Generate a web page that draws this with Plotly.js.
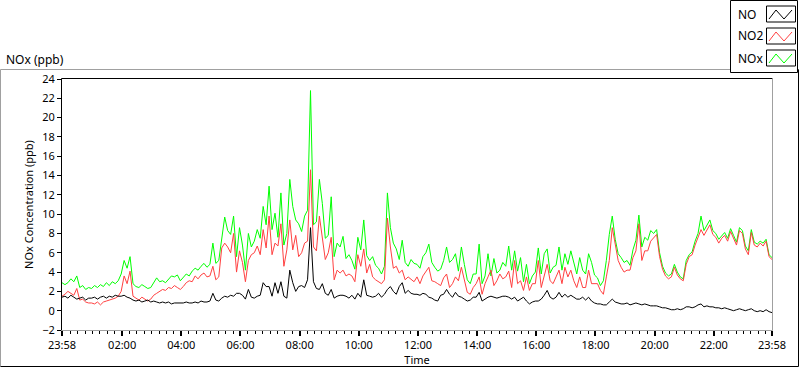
<!DOCTYPE html>
<html>
<head>
<meta charset="utf-8">
<script src="https://cdn.plot.ly/plotly-3.0.1.min.js"></script>
<style>html,body{margin:0;padding:0;background:#fff;}#chart{width:800px;height:369px;}</style>
</head>
<body>
<div id="chart"></div>
<script>
// ---- data (6-minute samples from 23:58 to 23:58 next day) ----
const seriesNames = ['NO', 'NO2', 'NOx'];
const seriesColors = ['#000000', '#ff4040', '#00ff00'];

const noxValues = [
  2.9,2.7,2.9,3.3,3.0,3.6,2.4,2.6,2.2,2.4,
  2.3,2.6,2.4,2.7,2.5,2.9,2.6,3.0,2.8,3.1,
  3.8,5.2,4.4,5.6,2.8,2.5,2.4,2.7,2.5,2.3,
  2.4,2.9,3.4,3.0,3.1,2.9,3.3,3.6,3.5,3.7,
  3.1,3.5,3.8,3.6,4.1,4.4,4.2,4.6,4.9,4.5,
  4.8,7.0,4.9,5.2,7.2,9.7,8.3,7.9,9.8,5.6,
  8.6,6.8,4.2,8.0,6.6,7.2,8.4,7.5,10.8,8.9,
  12.9,8.4,10.1,7.6,12.2,6.8,8.0,13.6,10.8,9.4,
  9.0,8.2,9.8,10.4,22.8,8.9,9.2,13.6,11.1,7.5,
  7.8,11.8,5.6,7.0,6.6,7.7,5.4,5.8,5.2,4.3,
  7.6,6.3,9.4,5.7,5.2,5.6,4.7,4.4,3.8,4.6,
  12.2,8.6,7.0,6.4,5.3,7.3,5.0,4.6,5.3,4.9,
  4.8,4.4,5.6,6.0,6.9,5.0,4.5,4.1,4.3,5.2,
  6.6,5.0,5.3,5.9,4.1,6.6,4.8,3.2,2.8,3.8,
  3.8,6.9,2.8,3.6,5.9,3.6,5.4,3.9,4.2,5.0,
  4.6,6.7,4.2,6.2,4.1,5.5,3.0,4.8,2.8,3.6,
  4.0,6.5,3.8,5.9,6.4,3.9,4.5,4.7,6.6,4.2,
  5.9,4.8,6.2,4.9,3.8,5.5,4.2,3.8,5.9,5.0,
  3.7,3.4,2.6,3.1,5.2,7.9,9.8,7.4,5.9,5.5,
  5.0,5.2,4.7,6.3,7.3,9.9,6.6,7.6,7.3,8.3,
  8.0,8.4,6.0,4.6,3.9,3.6,3.8,4.8,4.0,3.5,
  3.3,5.2,5.8,6.1,7.2,8.0,9.8,8.3,8.9,9.4,
  8.3,8.0,7.4,7.8,8.1,7.5,8.5,7.8,7.1,8.6,
  8.3,6.7,6.2,8.4,7.1,6.9,7.2,7.0,7.4,5.8,5.5
];

const no2Values = [
  1.5,1.7,2.0,1.8,1.6,2.3,1.1,1.2,0.9,0.8,
  0.8,0.7,0.9,0.6,0.9,1.0,1.1,1.2,1.3,1.5,
  2.0,3.6,2.8,4.1,1.5,1.3,1.1,1.4,1.2,1.0,
  1.2,1.6,1.8,2.0,2.2,2.1,2.4,2.3,2.6,2.4,
  2.2,2.5,2.9,3.1,3.0,3.6,3.3,3.7,3.9,3.5,
  3.6,4.6,3.2,3.5,6.5,7.0,6.6,6.0,8.0,4.0,
  6.2,5.0,3.0,5.2,5.8,6.0,6.7,5.8,8.4,6.5,
  9.8,5.8,7.0,6.7,9.0,4.6,6.3,9.4,6.3,7.8,
  5.6,6.0,7.0,7.2,14.6,6.6,6.2,9.8,7.6,5.3,
  6.0,7.6,3.2,4.2,3.9,4.2,3.6,3.8,3.6,3.0,
  5.8,4.6,6.4,3.9,4.8,3.5,3.2,3.0,2.8,3.2,
  9.6,6.6,4.4,4.6,3.9,4.2,3.2,3.5,3.2,3.0,
  3.5,2.8,3.6,4.1,4.5,3.1,3.0,2.8,2.6,3.4,
  3.8,2.4,2.8,3.5,3.1,4.5,3.1,1.9,1.7,2.4,
  2.8,3.5,1.7,2.8,3.5,4.2,2.6,3.1,3.8,3.3,
  3.5,4.1,2.4,5.2,2.8,3.1,2.1,3.5,2.1,2.8,
  2.8,5.2,2.4,3.5,4.8,3.1,2.8,3.5,4.2,2.8,
  4.5,3.5,4.2,3.1,2.4,3.5,2.4,2.4,4.2,2.8,
  2.8,2.8,2.1,1.7,3.5,5.2,8.6,6.9,5.2,4.5,
  4.0,4.2,4.2,5.5,6.2,9.0,5.2,6.2,6.2,7.2,
  7.6,7.9,5.6,4.3,3.6,3.3,3.5,4.5,3.7,3.3,
  3.1,4.8,5.6,5.8,6.8,7.6,8.4,7.8,8.3,8.9,
  7.9,7.6,7.0,7.5,7.8,7.2,8.2,7.4,6.8,8.3,
  8.0,6.4,5.8,8.1,6.8,6.6,7.0,6.7,7.2,5.6,5.3
];

const noValues = [
  1.4,1.5,1.3,1.6,1.4,1.2,1.3,1.4,1.1,1.3,
  1.3,1.4,1.2,1.4,1.5,1.3,1.5,1.4,1.6,1.5,
  1.5,1.6,1.4,1.3,1.1,1.0,1.1,0.9,1.0,1.1,
  0.9,1.0,0.9,0.8,0.9,0.8,0.9,0.7,0.8,0.8,
  0.8,0.8,0.9,0.8,0.8,0.9,0.8,1.0,0.9,0.9,
  1.0,1.8,1.1,1.0,1.3,1.5,1.4,1.6,1.5,1.8,
  1.8,1.6,1.2,2.2,1.4,1.3,1.5,1.6,2.9,2.5,
  2.5,1.5,2.9,1.8,3.0,1.5,1.3,4.2,2.9,2.0,
  2.5,2.6,2.4,3.2,8.6,3.0,2.3,2.2,2.8,1.8,
  1.6,2.2,1.3,1.5,1.6,1.6,1.5,1.3,1.6,1.2,
  1.8,1.4,3.2,1.6,1.5,1.4,1.5,1.8,1.4,1.7,
  2.2,2.5,2.0,1.7,2.5,2.9,1.8,2.1,1.8,1.7,
  1.7,1.6,1.8,1.7,1.4,1.3,1.1,1.0,1.6,1.7,
  2.2,1.7,1.4,1.9,1.5,1.4,1.2,1.0,1.1,1.4,
  1.4,1.9,1.0,1.2,1.4,1.5,1.4,1.3,1.4,1.5,
  1.5,1.4,1.2,1.4,1.0,1.2,1.4,1.0,0.7,0.9,
  1.0,1.0,1.2,1.6,2.1,1.4,1.2,1.4,1.9,1.4,
  1.7,1.4,1.6,1.4,1.2,1.2,1.4,1.1,1.4,1.0,
  0.8,0.7,0.7,0.6,0.6,0.9,1.2,0.9,0.8,0.7,
  0.7,0.8,0.6,0.7,0.8,0.7,0.6,0.7,0.6,0.5,
  0.5,0.5,0.4,0.3,0.3,0.2,0.1,0.1,0.2,0.1,
  0.2,0.4,0.4,0.3,0.4,0.6,0.7,0.4,0.5,0.4,
  0.4,0.3,0.3,0.2,0.3,0.2,0.1,0.0,0.1,0.2,
  0.1,0.0,0.1,0.2,0.0,-0.1,0.0,-0.1,0.1,-0.1,-0.2
];

const tickVals = ['2020-01-01 23:58','2020-01-02 02:00','2020-01-02 04:00','2020-01-02 06:00',
  '2020-01-02 08:00','2020-01-02 10:00','2020-01-02 12:00','2020-01-02 14:00','2020-01-02 16:00',
  '2020-01-02 18:00','2020-01-02 20:00','2020-01-02 22:00','2020-01-02 23:58'];
const tickText = ['23:58','02:00','04:00','06:00','08:00','10:00','12:00','14:00','16:00',
  '18:00','20:00','22:00','23:58'];
const yTickVals = [-2,0,2,4,6,8,10,12,14,16,18,20,22,24];

// time stamps
const startMs = Date.UTC(2020,0,1,23,58);
const stepMs = 6*60*1000;
const times = noxValues.map((_, i) => new Date(startMs + i*stepMs).toISOString().slice(0,19).replace('T',' '));

const FONT = 'Noto Sans, Open Sans, sans-serif';

const traces = [
  {x: times, y: noxValues, name: 'NOx', type: 'scatter', mode: 'lines', line: {color: seriesColors[2], width: 1}},
  {x: times, y: no2Values, name: 'NO2', type: 'scatter', mode: 'lines', line: {color: seriesColors[1], width: 1}},
  {x: times, y: noValues,  name: 'NO',  type: 'scatter', mode: 'lines', line: {color: seriesColors[0], width: 1}}
];

// pixel -> paper helpers for decorations
const L = 62, R = 28, T = 79, B = 39, W = 800 - L - R, H = 369 - T - B;
const px = v => (v - L) / W;
const py = v => (369 - B - v) / H;
function ln(x0, y0, x1, y1, color) {
  return {type: 'line', xref: 'paper', yref: 'paper', x0: px(x0), y0: py(y0), x1: px(x1), y1: py(y1),
          line: {color: color, width: 1}, layer: 'above'};
}

const shapes = [
  // outer frame
  ln(0.5, 69.5, 798.5, 69.5, '#a0a0a0'),
  ln(0.5, 69.5, 0.5, 366.5, '#a0a0a0'),
  ln(0.5, 366.5, 798.5, 366.5, '#000000'),
  ln(798.5, 69.5, 798.5, 366.5, '#000000'),
  // plot area border
  ln(61.5, 78.5, 772.5, 78.5, '#000000'),
  ln(61.5, 78.5, 61.5, 330.5, '#000000'),
  ln(61.5, 330.5, 772.5, 330.5, '#a0a0a0'),
  ln(772.5, 78.5, 772.5, 330.5, '#a0a0a0'),
  // legend box
  {type: 'rect', xref: 'paper', yref: 'paper', x0: px(730.5), x1: px(797.5), y0: py(0.5), y1: py(72.5),
   fillcolor: '#ffffff', line: {color: '#000000', width: 1}, layer: 'above'}
];
const annotations = [
  {xref: 'paper', yref: 'paper', x: px(4), y: py(59), xanchor: 'left', yanchor: 'middle', showarrow: false,
   text: 'NOx (ppb)', font: {family: FONT, size: 12, color: '#000'}}
];
const legendRows = [14, 36, 58];
seriesNames.forEach((name, k) => {
  const cy = legendRows[k];
  shapes.push({type: 'rect', xref: 'paper', yref: 'paper', x0: px(766.5), x1: px(795.5), y0: py(cy - 8), y1: py(cy + 8),
    fillcolor: '#ffffff', line: {color: '#000000', width: 1}, layer: 'above'});
  const pts = [[769, cy + 5], [776, cy - 4], [784, cy + 5], [792, cy - 4]];
  const path = 'M ' + pts.map(p => px(p[0]) + ',' + py(p[1])).join(' L ');
  shapes.push({type: 'path', xref: 'paper', yref: 'paper', path: path, line: {color: seriesColors[k], width: 1}, layer: 'above'});
  annotations.push({xref: 'paper', yref: 'paper', x: px(736), y: py(cy), xanchor: 'left', yanchor: 'middle', showarrow: false,
    text: name, font: {family: FONT, size: 12, color: '#000'}});
});

const layout = {
  width: 800, height: 369,
  margin: {l: L, r: R, t: T, b: B, pad: 0},
  paper_bgcolor: '#ffffff', plot_bgcolor: '#ffffff',
  showlegend: false,
  font: {family: FONT, size: 11, color: '#000'},
  xaxis: {
    type: 'date',
    range: [tickVals[0], tickVals[tickVals.length - 1]],
    tickmode: 'array', tickvals: tickVals, ticktext: tickText,
    ticks: 'outside', ticklen: 5, tickwidth: 2, tickcolor: '#000',
    minor: {ticks: 'outside', ticklen: 3, tickwidth: 1, tickcolor: '#000', dtick: 15*60*1000, tick0: '2020-01-02 00:00', showgrid: false},
    showgrid: false, zeroline: false, showline: false,
    tickfont: {family: FONT, size: 11, color: '#000'},
    title: {text: 'Time', font: {family: FONT, size: 11, color: '#000'}, standoff: 2}
  },
  yaxis: {
    range: [-2, 24],
    tickmode: 'array', tickvals: yTickVals,
    ticks: 'outside', ticklen: 4, tickwidth: 1, tickcolor: '#000',
    showgrid: false, zeroline: false, showline: false,
    tickfont: {family: FONT, size: 11, color: '#000'},
    title: {text: 'NOx Concentration (ppb)', font: {family: FONT, size: 11, color: '#000'}, standoff: 6}
  },
  shapes: shapes,
  annotations: annotations
};

Plotly.newPlot('chart', traces, layout, {displayModeBar: false, staticPlot: true});
</script>
</body>
</html>
